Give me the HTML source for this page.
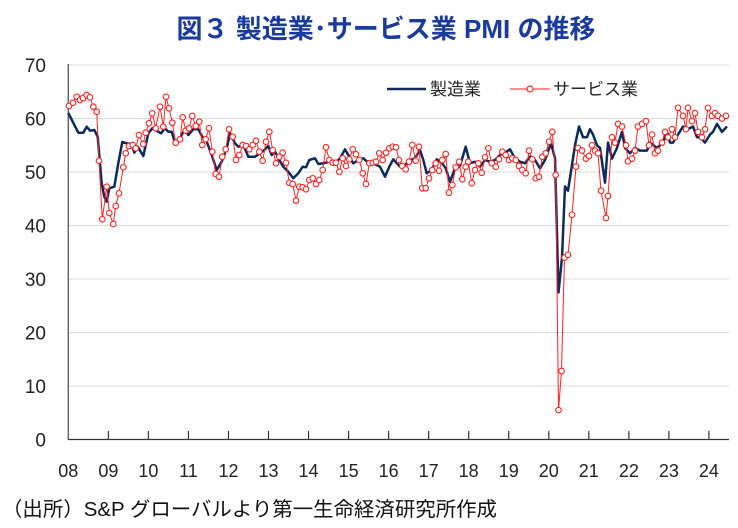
<!DOCTYPE html>
<html><head><meta charset="utf-8"><style>
body{margin:0;background:#fff;width:738px;height:523px;overflow:hidden;font-family:"Liberation Sans","Noto Sans CJK JP",sans-serif}
</style></head><body>
<svg id="s" width="738" height="523" xmlns="http://www.w3.org/2000/svg" font-family="Liberation Sans, Noto Sans CJK JP, sans-serif">
<text x="386" y="38" text-anchor="middle" font-size="26" font-weight="bold" fill="#1a3a9e">図３ 製造業･サービス業 PMI の推移</text>
<g id="grid"></g>
<line x1="68.3" y1="64" x2="68.3" y2="440" stroke="#555" stroke-width="1.3"/>
<line x1="68.3" y1="439.5" x2="729" y2="439.5" stroke="#333" stroke-width="1.3"/>
<g id="ticks"></g>
<g id="ser"></g>
<line x1="387" y1="89" x2="426" y2="89" stroke="#0d2a5e" stroke-width="2.5"/>
<text x="430" y="95" font-size="17" fill="#222">製造業</text>
<line x1="510" y1="89" x2="550" y2="89" stroke="#ff2020" stroke-width="1"/>
<circle cx="530" cy="89" r="3" fill="#fff" stroke="#ff2020" stroke-width="1.2"/>
<text x="553" y="95" font-size="17" fill="#222">サービス業</text>
<text x="2" y="516" font-size="20" fill="#111" textLength="495" lengthAdjust="spacingAndGlyphs">（出所）S&amp;P グローバルより第一生命経済研究所作成</text>
</svg>
<script>
const NS="http://www.w3.org/2000/svg";
function el(t,a,p,txt){const e=document.createElementNS(NS,t);for(const k in a)e.setAttribute(k,a[k]);if(txt!=null)e.textContent=txt;document.getElementById(p).appendChild(e);return e;}
const Y=v=>439.5-5.35*v;
for(let v=0;v<=70;v+=10){ if(v>0) el('line',{x1:68.3,x2:729,y1:Y(v),y2:Y(v),stroke:'#d9d9d9','stroke-width':1},'grid');
 el('text',{x:46,y:Y(v)+7,'text-anchor':'end','font-size':19,fill:'#222'},'grid',String(v));}
for(let i=0;i<=16;i++){const x=68.3+40.04*i; if(i>0)el('line',{x1:x,x2:x,y1:431,y2:439.5,stroke:'#333','stroke-width':1.2},'ticks');
 el('text',{x:x,y:477,'text-anchor':'middle','font-size':18,fill:'#222'},'ticks',String(8+i).padStart(2,'0'));}
const navyP=[[68.3,113],[78.3,132.7],[83.3,132.7],[86.7,126.7],[90,130.7],[94.3,130],[97.7,136.7],[101.7,183.3],[104.3,196.7],[106.7,201.7],[109.3,188.3],[114.3,186.7],[118.3,163.3],[122.3,142],[126.7,143.3],[131.7,144],[134.3,152.7],[137.7,146.7],[143.3,156],[148.3,133.3],[152.3,128.3],[158.3,131.7],[161,133.3],[165,128.3],[168.3,131.7],[171.7,131.7],[175,143.3],[180,138.3],[184.3,130],[188.3,135],[193.3,129.3],[198.3,129.3],[202.3,136.7],[206.7,141.7],[211.7,155],[216.7,170],[221.7,161.7],[226.7,148.3],[230,133.3],
[235,143.3],[238.3,146.7],[243.3,145],[248.3,156.7],[255,156.7],[260,153.3],[265,149.3],[268.3,146],[271.7,155],[275,151.7],[279.3,160],[283.3,166.7],[288.3,171.7],[293.3,178.3],[298.3,173.3],[302.7,166.7],[306,167.3],[309.3,160],[315,158.3],[318.3,164],[323.3,163.3],[330,161.7],[335,163.3],[340,158.3],[345,149.3],[349.3,156.7],[353.3,163.3],[358.3,160],[363.3,158.3],[368.3,162.7],[373.3,163.3],[380,166.7],[385,176.7],[389.3,166.7],[393.3,159.3],
[400,166.7],[405,165],[410,160],[415,158.3],[420,150],[423.3,160],[426.7,173.3],[431.7,170],[436.7,159.3],[441.7,162.7],[445.7,168.3],[450,181.7],[455,168.3],[460,166],[465.7,146.7],[470,163.3],[475,161.7],[480,166.7],[485,160],[490,161.7],[495,160],[500,155],[505,152.7],[510,149.3],[515,158.3],[520,161.7],[525,163.3],[530,156.7],[535,160],[540,168.3],[545,160],[551,143.3],[555,158.3]];
const navyV=[[558.5,27.5],[562,34],[565,47.3],[568,46.5],[575,55],[579,58.5],[583,56.5],[587,56.5],[590,58],[593,57],[597,55],[600,54.5],[605,48],[608,55.5],[612,52.5],[617,54.5],[622,57.5],[625,54.5],[630,53.5],[635,54.5],[640,54],[647,54],[650,55.5],[657,54.5],[663,55.5],[667,57.5],[670,55.5],[673,55.5],[678,57],[683,58.5],[688,58],[693,58.5],[697,56.5],[700,56.5],[705,55.5],[710,57],[713,57.5],[717,59],[722,57.5],[727,58.5]];
const redP=[[69,106],[73,102.7],[76.7,96.7],[80,100],[83,98],[86.7,95],[90,97.3],[93.3,106.7],[96.7,111.7],[99,160.7],[102.3,219.3],[106.7,186.7],[109.3,213],[113.3,224],[115.7,206],[119,193.3],[123.3,167.3],[125.7,153.3],[129,146],[132.7,145],[135.7,148.3],[139,135],[143.3,144],[145.7,132.7],[149,123.3],[152.3,113.3],[155.7,128.3],[160,106.7],[163.3,126.7],[166,96.7],[169,108.3],[172.3,122.7],[175.7,142.7],[180,139.3],[182.7,117.3],[185.7,130.7],[189,128.3],[192.3,116],[195.7,126],[199.3,121.7],[202.3,145],[205.7,139.3],[209,128.3],[212.3,151.7],[215.7,174],[219,176.7],[222.3,156.7],[225.7,149.3],[229,129.3],
[232.7,136.7],[236,160],[239.3,155],[242.7,145],[246,146],[249.3,149.3],[252.7,145],[256,140.7],[259.3,151.7],[262.7,160.7],[266,141.7],[269.3,131.7],[272.7,150],[276,163.3],[279.3,156.7],[282.7,152.7],[286,162.7],[289.3,182.7],[292.7,184],[296,200.7],[299.3,186.7],[302.7,187.3],[306,189.3],[309.3,180],[312.7,178.3],[316,184],[319.3,180],[322.7,170],[326,147.3],[329.3,160],[332.7,162.7],[336,162.7],[339.3,171.7],[342.7,158.3],[346,166],[349.3,159.3],[352.7,149.3],[356,154.3],[359.3,160],[362.7,173.3],[366,184],[369.3,163.3],[372.7,162.7],[376,161.7],[379.3,153.3],[382.7,160],[386,152.7],[389.3,148.3],[392.7,146.7],[396,147.3],
[399,160],[402.3,166],[405.7,169.3],[409,161.7],[412.3,145],[415.7,160.7],[419,146.7],[422.3,188.3],[425.7,188.3],[429,178.3],[432.3,170],[435.7,163.3],[439,170.7],[442.3,160],[445.7,154],[449,192.7],[452.3,185],[455.7,167.3],[459,161.7],[462.3,179.3],[465.7,166.7],[468.3,161.7],[471.7,183.3],[475,170],[478.3,163.3],[481.7,172.7],[485,157.3],[488.3,148.3],[491.7,163.3],[495.7,166.7],[499,159.3],[502.3,151.7],[505.7,155],[509,160],[512.3,158.3],[515.7,160],[519,166],[522.3,170],[525.7,173.3],[529,150.7],[532.3,159.3],[535.7,178.3],[539,176.7],[542.3,156.7],[545.7,153.3],[549,141.7],[552.3,131.7],[555.7,175]];
const redV=[[558.5,5.5],[561.5,12.8],[564.5,34],[568,34.5],[572,42],[576,51],[578,54.5],[582,54],[586,52.5],[589,53],[592,55],[595,54],[598,53.5],[601,46.5],[606,41.4],[608,45.5],[612,56.5],[615,55.5],[618,59],[622,58.5],[626,55],[628,52],[632,52.5],[635,54],[638,58.5],[642,59],[646,59.5],[649,55],[652,57],[655,53.5],[658,54],[662,55.5],[665,57.5],[668,56.5],[672,58],[675,56.5],[678,62],[683,60.5],[686,58],[688,62],[692,59.5],[695,61],[698,57.5],[702,56.5],[705,58],[708,62],[712,60.5],[715,61],[718,60.5],[722,60],[726,60.5]];
const navy=navyP.concat(navyV.map(p=>[p[0],Y(p[1])]));
const red=redP.concat(redV.map(p=>[p[0],Y(p[1])]));
const pts=a=>a.map(p=>p[0].toFixed(1)+','+p[1].toFixed(1)).join(' ');
el('polyline',{points:pts(navy),fill:'none',stroke:'#0d2a5e','stroke-width':2.5,'stroke-linejoin':'round'},'ser');
el('polyline',{points:pts(red),fill:'none',stroke:'#ff2020','stroke-width':1},'ser');
red.forEach(p=>el('circle',{cx:p[0],cy:p[1],r:2.8,fill:'#fff',stroke:'#ff2020','stroke-width':1.1},'ser'));
</script>
</body></html>
